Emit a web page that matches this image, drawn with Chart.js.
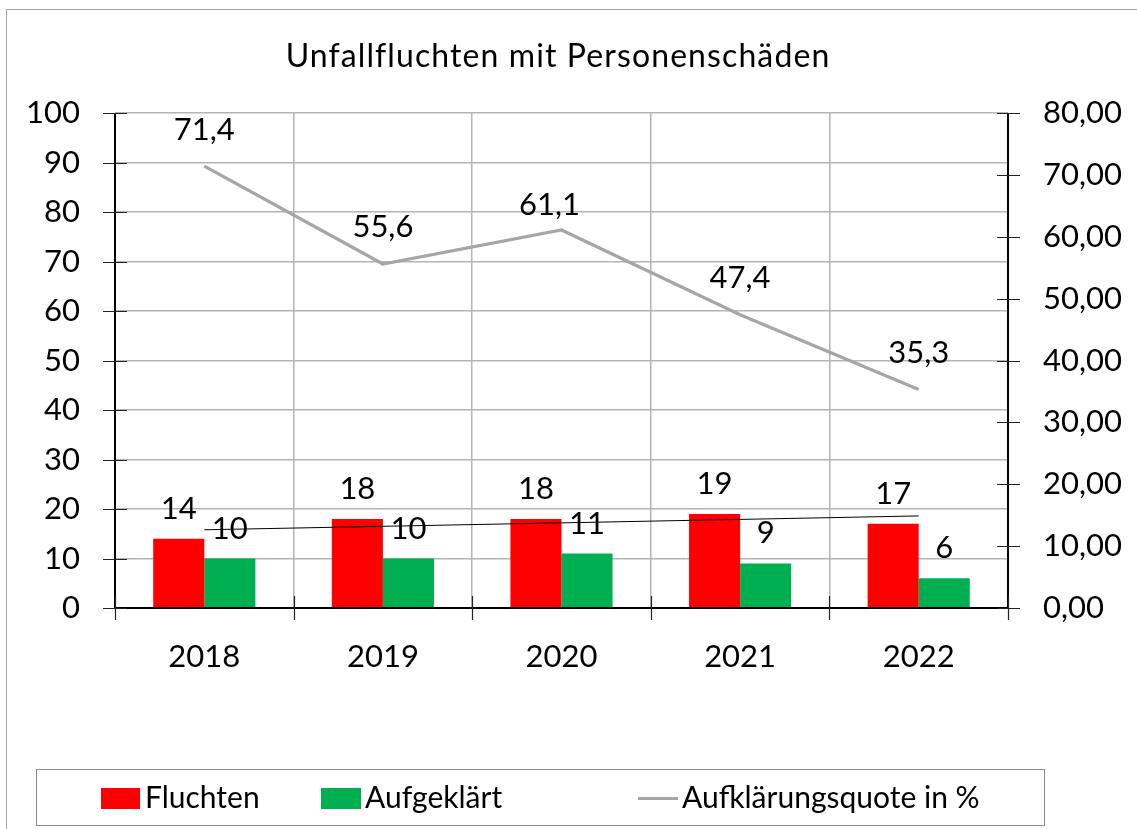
<!DOCTYPE html>
<html>
<head>
<meta charset="utf-8">
<script src="https://cdn.jsdelivr.net/npm/chart.js@4.4.1/dist/chart.umd.min.js"></script>
<style>
  html, body { margin: 0; padding: 0; background: #fff; }
  #wrap { width: 1137px; height: 829px; position: relative; }
</style>
</head>
<body>
<div id="wrap"><canvas id="c" width="1137" height="829"></canvas></div>
<script>
const title = 'Unfallfluchten mit Personenschäden';
const years = ['2018', '2019', '2020', '2021', '2022'];
const fluchten = [14, 18, 18, 19, 17];
const aufgeklaert = [10, 10, 11, 9, 6];
const quote = [71.4, 55.6, 61.1, 47.4, 35.3];
const trendFluchten = [15.8, 16.5, 17.2, 17.9, 18.6];
const leftTicks = [0, 10, 20, 30, 40, 50, 60, 70, 80, 90, 100];
const rightTicks = [0, 10, 20, 30, 40, 50, 60, 70, 80];

const FONT = 'Lato, "Open Sans", sans-serif';
const GRID = '#b4b4b4';

const fmtDE = (v, d) => v.toFixed(d).replace('.', ',');

const decor = {
  id: 'decor',
  beforeDraw(chart) {
    const ctx = chart.ctx;
    ctx.save();
    ctx.fillStyle = '#fff';
    ctx.fillRect(0, 0, chart.width, chart.height);
    ctx.strokeStyle = '#a6a6a6';
    ctx.lineWidth = 1;
    ctx.strokeRect(6.5, 9.5, 1300, 1000);
    ctx.restore();
  },
  afterDatasetsDraw(chart) {
    const ctx = chart.ctx;
    ctx.save();
    ctx.font = '31px ' + FONT;
    ctx.fillStyle = '#000';
    ctx.textAlign = 'center';
    ctx.textBaseline = 'alphabetic';
    [0, 1].forEach(di => {
      const meta = chart.getDatasetMeta(di);
      const data = chart.data.datasets[di].data;
      meta.data.forEach((el, i) => {
        ctx.fillText(String(data[i]), el.x, el.y - 20);
      });
    });
    const meta = chart.getDatasetMeta(2);
    const data = chart.data.datasets[2].data;
    const lblAdj = chart.options.plugins.decor.lineLabelAdjust;
    meta.data.forEach((el, i) => {
      const a = lblAdj[i] || [0, 0];
      ctx.fillText(fmtDE(data[i], 1), el.x + a[0], el.y - 26.5 + a[1]);
    });
    ctx.restore();
  },
  afterDraw(chart) {
    const ctx = chart.ctx;
    const ca = chart.chartArea;
    const sy = chart.scales.y, sy2 = chart.scales.y2, sx = chart.scales.x;
    ctx.save();
    ctx.strokeStyle = '#000';
    ctx.lineWidth = 2;
    ctx.beginPath();
    ctx.moveTo(ca.left, ca.top); ctx.lineTo(ca.left, ca.bottom);
    ctx.moveTo(ca.left, ca.bottom); ctx.lineTo(ca.right, ca.bottom);
    ctx.moveTo(ca.right, ca.top); ctx.lineTo(ca.right, ca.bottom);
    ctx.stroke();
    ctx.lineWidth = 1.2;
    ctx.strokeStyle = '#222';
    ctx.beginPath();
    sy.ticks.forEach(t => {
      const p = Math.round(sy.getPixelForValue(t.value)) + 0.5;
      ctx.moveTo(ca.left - 12, p); ctx.lineTo(ca.left + 12, p);
    });
    sy2.ticks.forEach(t => {
      const p = Math.round(sy2.getPixelForValue(t.value)) + 0.5;
      ctx.moveTo(ca.right - 11, p); ctx.lineTo(ca.right + 12, p);
    });
    const n = years.length;
    for (let i = 0; i <= n; i++) {
      const p = Math.round(sx.getPixelForValue(i - 0.5)) + 0.5;
      ctx.moveTo(p, ca.bottom - 12); ctx.lineTo(p, ca.bottom + 12);
    }
    ctx.stroke();

    // title
    ctx.fillStyle = '#000';
    ctx.font = '32px ' + FONT;
    if ('letterSpacing' in ctx) ctx.letterSpacing = '1.1px';
    ctx.textAlign = 'center';
    ctx.textBaseline = 'alphabetic';
    ctx.fillText(title, 558, 67);
    if ('letterSpacing' in ctx) ctx.letterSpacing = '0px';

    // legend
    ctx.strokeStyle = '#8c8c8c';
    ctx.lineWidth = 1;
    ctx.strokeRect(36.5, 769.5, 1008, 56);
    ctx.font = '30px ' + FONT;
    ctx.textAlign = 'left';
    const ds = chart.data.datasets;
    ctx.fillStyle = ds[0].backgroundColor;
    ctx.fillRect(101, 788, 39, 21);
    ctx.fillStyle = '#000';
    ctx.fillText(ds[0].label, 145, 808);
    ctx.fillStyle = ds[1].backgroundColor;
    ctx.fillRect(321, 788, 40, 21);
    ctx.fillStyle = '#000';
    ctx.fillText(ds[1].label, 365, 808);
    ctx.strokeStyle = ds[2].borderColor;
    ctx.lineWidth = 3;
    ctx.beginPath();
    ctx.moveTo(638, 798.5); ctx.lineTo(678, 798.5);
    ctx.stroke();
    ctx.fillStyle = '#000';
    ctx.fillText(ds[2].label, 682, 808);
    ctx.restore();
  }
};

new Chart(document.getElementById('c'), {
  data: {
    labels: years,
    datasets: [
      { type: 'bar', label: 'Fluchten', data: fluchten, backgroundColor: '#ff0000', yAxisID: 'y', order: 3,
        categoryPercentage: 0.572, barPercentage: 1.0 },
      { type: 'bar', label: 'Aufgeklärt', data: aufgeklaert, backgroundColor: '#00b050', yAxisID: 'y', order: 3,
        categoryPercentage: 0.572, barPercentage: 1.0 },
      { type: 'line', label: 'Aufklärungsquote in %', data: quote, borderColor: '#a6a6a6', borderWidth: 3.2,
        pointRadius: 0, yAxisID: 'y2', order: 0, tension: 0 },
      { type: 'line', label: 'Trend', data: trendFluchten, borderColor: '#000', borderWidth: 1,
        pointRadius: 0, yAxisID: 'y', order: 1, tension: 0 }
    ]
  },
  options: {
    responsive: false,
    animation: false,
    layout: { padding: { top: 113, left: 0, right: 0, bottom: 0 } },
    plugins: {
      legend: { display: false },
      title: { display: false },
      tooltip: { enabled: false },
      decor: { lineLabelAdjust: [[0, 0], [0, 0], [-12, 12], [0, 0], [0, 0]] }
    },
    scales: {
      x: {
        offset: true,
        grid: { offset: true, color: GRID, lineWidth: 1.5, drawTicks: false },
        border: { display: false },
        ticks: { font: { family: FONT, size: 31 }, color: '#000', padding: 30, maxRotation: 0 },
        afterFit(s) { s.height = 829 - 608; }
      },
      y: {
        position: 'left', min: 0, max: 100,
        afterBuildTicks(s) { s.ticks = leftTicks.map(v => ({ value: v })); },
        grid: { color: GRID, lineWidth: 1.5, drawTicks: false },
        border: { display: false },
        ticks: { font: { family: FONT, size: 31 }, color: '#000', padding: 35 },
        afterFit(s) { s.width = 115; }
      },
      y2: {
        position: 'right', min: 0, max: 80,
        afterBuildTicks(s) { s.ticks = rightTicks.map(v => ({ value: v })); },
        grid: { display: false, drawTicks: false },
        border: { display: false },
        ticks: { font: { family: FONT, size: 31 }, color: '#000', padding: 35,
          callback: v => fmtDE(v, 2) },
        afterFit(s) { s.width = 1137 - 1008; }
      }
    }
  },
  plugins: [decor]
});
</script>
</body>
</html>
